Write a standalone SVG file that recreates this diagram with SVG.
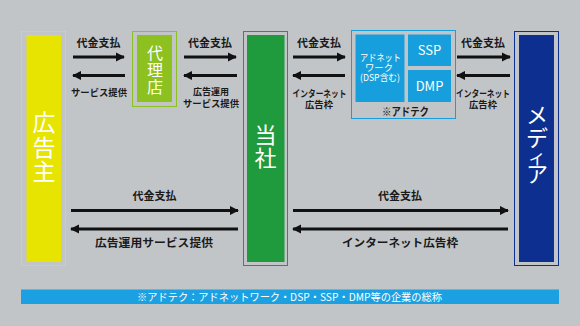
<svg xmlns="http://www.w3.org/2000/svg" width="580" height="326" viewBox="0 0 580 326">
<style>
.lbl{font-family:"Noto Sans CJK JP","Noto Sans",sans-serif;font-size:11px;font-weight:bold;fill:#1a1a1a;text-anchor:middle}
.sm{font-size:9.5px}
.big{font-family:"Noto Sans CJK JP",sans-serif;fill:#fff;text-anchor:middle}
.w{font-family:"Noto Sans CJK JP","Liberation Sans",sans-serif;fill:#fff;text-anchor:middle}
.arr{stroke:#111;stroke-width:3;fill:none}
</style>
<defs>
<marker id="ah" viewBox="0 0 10 10" refX="9" refY="5" markerWidth="3" markerHeight="3.4" orient="auto-start-reverse" markerUnits="strokeWidth">
<path d="M0,0 L10,5 L0,10 Z" fill="#111"/>
</marker>
</defs>
<rect width="580" height="326" fill="#C2C5C8"/>

<g id="advertiser">
<rect x="21.5" y="31.5" width="44" height="234" fill="none" stroke="#E6E400" stroke-width="1"/>
<rect x="26.5" y="35" width="34.5" height="227" fill="#E6E400"/>
<text class="big" font-size="23"><tspan x="44" y="131">広</tspan><tspan x="44" y="156">告</tspan><tspan x="44" y="180">主</tspan></text>
</g>

<g id="agency">
<rect x="132.5" y="31.5" width="44" height="75" fill="none" stroke="#8CC11F" stroke-width="1"/>
<rect x="137" y="35" width="35" height="67" fill="#8CC11F"/>
<text class="big" font-size="16"><tspan x="155" y="59">代</tspan><tspan x="155" y="76">理</tspan><tspan x="155" y="93">店</tspan></text>
</g>

<g id="company">
<rect x="243.5" y="31.5" width="44" height="234" fill="none" stroke="#1F9A3C" stroke-width="1"/>
<rect x="247" y="35" width="37.5" height="227" fill="#1F9A3C"/>
<text class="big" font-size="22"><tspan x="265.5" y="143">当</tspan><tspan x="265.5" y="166">社</tspan></text>
</g>

<g id="adtech">
<rect x="351.5" y="30.5" width="104" height="88" fill="none" stroke="#169FDC" stroke-width="1"/>
<rect x="355.5" y="34.5" width="49" height="67.5" fill="#169FDC"/>
<rect x="408" y="34.5" width="43" height="31.5" fill="#169FDC"/>
<rect x="408" y="70" width="43" height="32" fill="#169FDC"/>
<text class="w" font-size="9.5"><tspan x="380.5" y="61" textLength="41" lengthAdjust="spacingAndGlyphs">アドネット</tspan><tspan x="379" y="71" textLength="28" lengthAdjust="spacingAndGlyphs">ワーク</tspan><tspan x="380" y="81" textLength="40" lengthAdjust="spacingAndGlyphs">(DSP含む)</tspan></text>
<text class="w" font-size="13" x="429.5" y="55" font-family="Liberation Sans">SSP</text>
<text class="w" font-size="13" x="429.5" y="91" font-family="Liberation Sans">DMP</text>
<text class="lbl" font-size="10" x="405.5" y="116" textLength="47" lengthAdjust="spacingAndGlyphs">※アドテク</text>
</g>

<g id="media">
<rect x="514.5" y="31.5" width="44" height="234" fill="none" stroke="#0D2F8F" stroke-width="1"/>
<rect x="519" y="35" width="35" height="227" fill="#0D2F8F"/>
<text class="big" font-size="22"><tspan x="537" y="123">メ</tspan><tspan x="537" y="146">デ</tspan><tspan x="537" y="164" font-size="18">ィ</tspan><tspan x="537" y="182">ア</tspan></text>
</g>

<g id="connectors">
<line class="arr" x1="73" y1="57" x2="124" y2="57" marker-end="url(#ah)"/>
<line class="arr" x1="125" y1="75.5" x2="73" y2="75.5" marker-end="url(#ah)"/>
<line class="arr" x1="184" y1="57" x2="236" y2="57" marker-end="url(#ah)"/>
<line class="arr" x1="237" y1="75.5" x2="184" y2="75.5" marker-end="url(#ah)"/>
<line class="arr" x1="293" y1="57" x2="345" y2="57" marker-end="url(#ah)"/>
<line class="arr" x1="345" y1="75.5" x2="293" y2="75.5" marker-end="url(#ah)"/>
<line class="arr" x1="457" y1="57" x2="510" y2="57" marker-end="url(#ah)"/>
<line class="arr" x1="510" y1="75.5" x2="457" y2="75.5" marker-end="url(#ah)"/>
<line class="arr" x1="71" y1="210.5" x2="238" y2="210.5" marker-end="url(#ah)"/>
<line class="arr" x1="238" y1="229" x2="71" y2="229" marker-end="url(#ah)"/>
<line class="arr" x1="293" y1="210.5" x2="508" y2="210.5" marker-end="url(#ah)"/>
<line class="arr" x1="508" y1="229" x2="293" y2="229" marker-end="url(#ah)"/>

<text class="lbl" x="98.5" y="47">代金支払</text>
<text class="lbl sm" x="99" y="96" textLength="56" lengthAdjust="spacingAndGlyphs">サービス提供</text>
<text class="lbl" x="210" y="47">代金支払</text>
<text class="lbl sm"><tspan x="211" y="95" textLength="36" lengthAdjust="spacingAndGlyphs">広告運用</tspan><tspan x="211" y="107" textLength="56" lengthAdjust="spacingAndGlyphs">サービス提供</tspan></text>
<text class="lbl" x="319" y="47">代金支払</text>
<text class="lbl sm"><tspan x="319.5" y="97" textLength="54" lengthAdjust="spacingAndGlyphs">インターネット</tspan><tspan x="319" y="108" textLength="28" lengthAdjust="spacingAndGlyphs">広告枠</tspan></text>
<text class="lbl" x="483" y="47">代金支払</text>
<text class="lbl sm"><tspan x="483" y="97" textLength="54" lengthAdjust="spacingAndGlyphs">インターネット</tspan><tspan x="483" y="108" textLength="28" lengthAdjust="spacingAndGlyphs">広告枠</tspan></text>
<text class="lbl" x="154.5" y="200">代金支払</text>
<text class="lbl" x="154" y="247" textLength="118" lengthAdjust="spacingAndGlyphs">広告運用サービス提供</text>
<text class="lbl" x="400" y="200">代金支払</text>
<text class="lbl" x="400" y="247" textLength="116" lengthAdjust="spacingAndGlyphs">インターネット広告枠</text>
</g>

<g id="footnote">
<rect x="21" y="289.5" width="538" height="14.5" fill="#1BA1E2"/>
<text class="w" font-size="10.5" x="289.5" y="301" textLength="305" lengthAdjust="spacingAndGlyphs">※アドテク：アドネットワーク・DSP・SSP・DMP等の企業の総称</text>
</g>
</svg>
